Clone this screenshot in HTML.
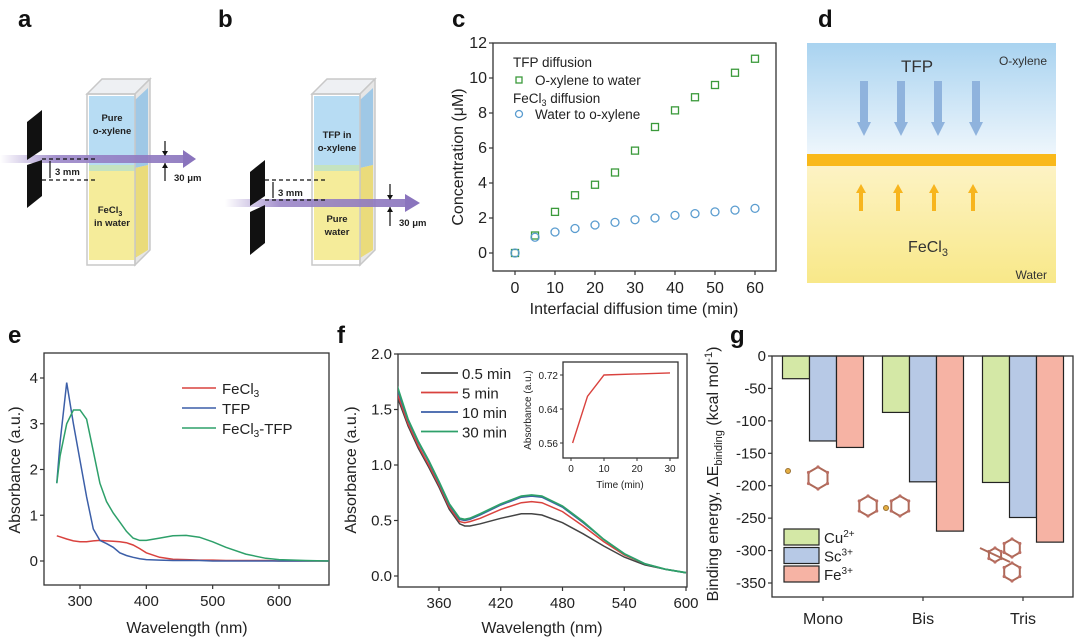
<!DOCTYPE html>
<html><head><meta charset="utf-8"><style>
html,body{margin:0;padding:0;background:#fff;}
svg{display:block;font-family:"Liberation Sans",Arial,sans-serif;}
.pl{font-weight:bold;font-size:24px;fill:#111;}
.tk{font-size:15px;fill:#222;}
.tkc{font-size:16px;fill:#222;}
.at{font-size:16px;fill:#222;}
.sm{font-size:9.5px;font-weight:bold;fill:#222;}
</style></head><body>
<svg id="fig" width="1080" height="638" viewBox="0 0 1080 638">
<defs>
<linearGradient id="gd1" x1="0" y1="0" x2="0" y2="1"><stop offset="0" stop-color="#a9d3f0"/><stop offset="1" stop-color="#eef6fc"/></linearGradient>
<linearGradient id="gd2" x1="0" y1="0" x2="0" y2="1"><stop offset="0" stop-color="#fdf3c4"/><stop offset="1" stop-color="#f8e889"/></linearGradient>
<linearGradient id="beam" x1="0" y1="0" x2="1" y2="0"><stop offset="0" stop-color="#9b86c8" stop-opacity="0"/><stop offset="0.3" stop-color="#9b86c8"/><stop offset="1" stop-color="#8a74bd"/></linearGradient>
</defs>
<text class="pl" x="18" y="27">a</text>
<text class="pl" x="218" y="27">b</text>
<text class="pl" x="452" y="27">c</text>
<text class="pl" x="818" y="27">d</text>
<text class="pl" x="8" y="343">e</text>
<text class="pl" x="337" y="343">f</text>
<text class="pl" x="730" y="343">g</text>

<g>
<polygon points="87,94 102,79 150,79 135,94" fill="#eef0f3" stroke="#c8c8c8" stroke-width="1.5"/>
<polygon points="135,94 150,79 150,250 135,265" fill="#e6e6e6" stroke="#c8c8c8" stroke-width="1.5"/>
<rect x="89" y="96" width="46" height="72" fill="#b7dcf3"/>
<rect x="89" y="168" width="46" height="92" fill="#f5ec9a"/>
<polygon points="135,100 148,88 148,165 135,168" fill="#9fc8e6"/>
<polygon points="135,168 148,165 148,250 135,258" fill="#eadb7b"/>
<rect x="89" y="165" width="46" height="6" fill="#c5e3c0"/>
<rect x="87" y="94" width="48" height="171" fill="none" stroke="#c8c8c8" stroke-width="1.5"/>
<text class="sm" x="112" y="121" text-anchor="middle">Pure</text>
<text class="sm" x="112" y="134" text-anchor="middle">o-xylene</text>
<text class="sm" x="110" y="213" text-anchor="middle">FeCl<tspan font-size="7" dy="3">3</tspan></text>
<text class="sm" x="112" y="226" text-anchor="middle">in water</text>
<rect x="0" y="155" width="185" height="8" fill="url(#beam)" opacity="0.9"/>
<polygon points="183,150 196,159 183,168" fill="#8a74bd"/>
<polygon points="27,122 42,110 42,150 27,160" fill="#111"/>
<polygon points="27,165 42,160 42,196 27,208" fill="#111"/>
<line x1="42" y1="159" x2="98" y2="159" stroke="#111" stroke-dasharray="4,3" stroke-width="1.3"/>
<line x1="42" y1="180" x2="98" y2="180" stroke="#111" stroke-dasharray="4,3" stroke-width="1.3"/>
<line x1="50" y1="161" x2="50" y2="178" stroke="#111" stroke-width="1.2"/>
<text class="sm" x="55" y="175">3 mm</text>
<line x1="165" y1="141" x2="165" y2="155" stroke="#111" stroke-width="1.2"/>
<polygon points="162,151 168,151 165,156" fill="#111"/>
<line x1="165" y1="163" x2="165" y2="181" stroke="#111" stroke-width="1.2"/>
<polygon points="162,168 168,168 165,163" fill="#111"/>
<text class="sm" x="174" y="181">30 μm</text>
</g>

<g>
<polygon points="312,94 327,79 375,79 360,94" fill="#eef0f3" stroke="#c8c8c8" stroke-width="1.5"/>
<polygon points="360,94 375,79 375,250 360,265" fill="#e6e6e6" stroke="#c8c8c8" stroke-width="1.5"/>
<rect x="314" y="96" width="46" height="72" fill="#b7dcf3"/>
<rect x="314" y="168" width="46" height="92" fill="#f5ec9a"/>
<polygon points="360,100 373,88 373,165 360,168" fill="#9fc8e6"/>
<polygon points="360,168 373,165 373,250 360,258" fill="#eadb7b"/>
<rect x="314" y="165" width="46" height="6" fill="#c5e3c0"/>
<rect x="312" y="94" width="48" height="171" fill="none" stroke="#c8c8c8" stroke-width="1.5"/>
<text class="sm" x="337" y="138" text-anchor="middle">TFP in</text>
<text class="sm" x="337" y="151" text-anchor="middle">o-xylene</text>
<text class="sm" x="337" y="222" text-anchor="middle">Pure</text>
<text class="sm" x="337" y="235" text-anchor="middle">water</text>
<rect x="225" y="199" width="182" height="8" fill="url(#beam)" opacity="0.9"/>
<polygon points="405,194 420,203 405,212" fill="#8a74bd"/>
<polygon points="250,172 265,160 265,196 250,206" fill="#111"/>
<polygon points="250,212 265,205 265,243 250,255" fill="#111"/>
<line x1="265" y1="180" x2="325" y2="180" stroke="#111" stroke-dasharray="4,3" stroke-width="1.3"/>
<line x1="265" y1="200" x2="325" y2="200" stroke="#111" stroke-dasharray="4,3" stroke-width="1.3"/>
<line x1="273" y1="182" x2="273" y2="198" stroke="#111" stroke-width="1.2"/>
<text class="sm" x="278" y="196">3 mm</text>
<line x1="390" y1="184" x2="390" y2="199" stroke="#111" stroke-width="1.2"/>
<polygon points="387,195 393,195 390,200" fill="#111"/>
<line x1="390" y1="207" x2="390" y2="226" stroke="#111" stroke-width="1.2"/>
<polygon points="387,212 393,212 390,207" fill="#111"/>
<text class="sm" x="399" y="226">30 μm</text>
</g>

<g>
<rect x="807" y="43" width="249" height="111" fill="url(#gd1)"/>
<rect x="807" y="166" width="249" height="117" fill="url(#gd2)"/>
<rect x="807" y="154" width="249" height="12" fill="#f9b91a"/>
<text x="917" y="72" font-size="17" fill="#333" text-anchor="middle">TFP</text>
<text x="1047" y="65" font-size="12" fill="#333" text-anchor="end">O-xylene</text>
<text x="928" y="252" font-size="16" fill="#333" text-anchor="middle">FeCl<tspan font-size="11" dy="4">3</tspan></text>
<text x="1047" y="279" font-size="12" fill="#333" text-anchor="end">Water</text>
<g fill="#8fb3dd">
<rect x="860" y="81" width="8" height="42"/><polygon points="857,122 871,122 864,136"/>
<rect x="897" y="81" width="8" height="42"/><polygon points="894,122 908,122 901,136"/>
<rect x="934" y="81" width="8" height="42"/><polygon points="931,122 945,122 938,136"/>
<rect x="972" y="81" width="8" height="42"/><polygon points="969,122 983,122 976,136"/>
</g>
<g fill="#f7b51e">
<rect x="859" y="191" width="4" height="20"/><polygon points="856,193 866,193 861,184"/>
<rect x="896" y="191" width="4" height="20"/><polygon points="893,193 903,193 898,184"/>
<rect x="932" y="191" width="4" height="20"/><polygon points="929,193 939,193 934,184"/>
<rect x="971" y="191" width="4" height="20"/><polygon points="968,193 978,193 973,184"/>
</g>
</g>

<g id="plots"></g>
</svg>
<script>
const cTime = [0,5,10,15,20,25,30,35,40,45,50,55,60];
const cTFP = [0,1.0,2.35,3.3,3.9,4.6,5.85,7.2,8.15,8.9,9.6,10.3,11.1];
const cFeCl3 = [0,0.9,1.2,1.4,1.6,1.75,1.9,2.0,2.15,2.25,2.35,2.45,2.55];
const cYTicks = [0,2,4,6,8,10,12];
const cXTicks = [0,10,20,30,40,50,60];

const eWave = [265,270,280,290,300,310,320,330,340,350,360,370,380,390,400,420,440,460,480,500,520,550,580,600,640,675];
const eFeCl3 = [0.55,0.53,0.48,0.44,0.42,0.42,0.44,0.45,0.44,0.43,0.42,0.40,0.35,0.27,0.18,0.08,0.04,0.03,0.02,0.02,0.01,0.01,0.01,0,0,0];
const eTFP = [1.7,2.6,3.9,3.0,2.2,1.4,0.7,0.45,0.38,0.30,0.18,0.12,0.08,0.05,0.03,0.02,0.01,0.01,0.01,0,0,0,0,0,0,0];
const eMix = [1.7,2.3,3.0,3.3,3.3,3.1,2.4,1.7,1.3,1.05,0.85,0.65,0.5,0.45,0.45,0.5,0.55,0.56,0.52,0.42,0.3,0.15,0.06,0.03,0.01,0];
const eXTicks = [300,400,500,600];
const eYTicks = [0,1,2,3,4];

const fWave = [318,330,340,350,360,370,380,385,390,400,420,440,450,460,480,500,520,540,560,580,600];
const f05 = [1.65,1.35,1.15,0.98,0.80,0.60,0.47,0.45,0.45,0.47,0.52,0.56,0.56,0.55,0.48,0.38,0.27,0.17,0.10,0.06,0.03];
const f5 = [1.68,1.37,1.17,1.0,0.82,0.62,0.49,0.48,0.49,0.52,0.60,0.66,0.67,0.66,0.58,0.45,0.31,0.19,0.11,0.06,0.03];
const f10 = [1.72,1.40,1.20,1.03,0.84,0.64,0.51,0.50,0.51,0.55,0.64,0.71,0.72,0.71,0.62,0.48,0.33,0.20,0.11,0.06,0.03];
const f30 = [1.75,1.41,1.21,1.04,0.85,0.65,0.52,0.51,0.52,0.56,0.65,0.72,0.73,0.72,0.63,0.49,0.33,0.20,0.11,0.06,0.03];
const fXTicks = [360,420,480,540,600];
const fYTicks = [0,0.5,1.0,1.5,2.0];
const insetTime = [0.5,5,10,30];
const insetAbs = [0.56,0.67,0.72,0.725];
const insetXTicks = [0,10,20,30];
const insetYTicks = [0.56,0.64,0.72];

const gCats = ['Mono','Bis','Tris'];
const gCu = [-35,-87,-195];
const gSc = [-131,-194,-249];
const gFe = [-141,-270,-287];
const gYTicks = [0,-50,-100,-150,-200,-250,-300,-350];

const NS='http://www.w3.org/2000/svg';
const root=document.getElementById('plots');
function mk(tag,attrs,parent,txt){const el=document.createElementNS(NS,tag);for(const k in attrs)el.setAttribute(k,attrs[k]);if(txt!==undefined)el.textContent=txt;(parent||root).appendChild(el);return el;}
function lin(d0,d1,r0,r1){return v=>r0+(v-d0)*(r1-r0)/(d1-d0);}
function frame(x0,y0,x1,y1,name){const r=mk('rect',{x:x0,y:y0,width:x1-x0,height:y1-y0,fill:'none',stroke:'#333','stroke-width':1.3});}
function ticksX(vals,sx,yb,ty,fmt,cls,name){vals.forEach(v=>{mk('line',{x1:sx(v),x2:sx(v),y1:yb,y2:yb+4,stroke:'#333','stroke-width':1.2});const t=mk('text',{x:sx(v),y:ty,'text-anchor':'middle',class:cls||'tk'},root,fmt?fmt(v):v);});}
function ticksY(vals,sy,xl,tx,fmt,cls,name){vals.forEach(v=>{mk('line',{x1:xl-4,x2:xl,y1:sy(v),y2:sy(v),stroke:'#333','stroke-width':1.2});const t=mk('text',{x:tx,y:sy(v)+5,'text-anchor':'end',class:cls||'tk'},root,fmt?fmt(v):v);});}
function pts(xs,ys,sx,sy){return xs.map((x,i)=>sx(x).toFixed(1)+','+sy(ys[i]).toFixed(1)).join(' ');}

// panel c
{
const sx=lin(0,60,515,755), sy=lin(0,12,253,43);
frame(493,43,776,271,'panel-c-plot-area');
ticksX(cXTicks,sx,271,293,null,'tkc','c-x-tick-label');
ticksY(cYTicks,sy,493,487,null,'tkc','c-y-tick-label');
const xt=mk('text',{x:634,y:314,'text-anchor':'middle',class:'at'},root,'Interfacial diffusion time (min)');


const yt=mk('text',{x:0,y:0,'text-anchor':'middle',class:'at',transform:'translate(463,157) rotate(-90)'},root,'Concentration (μM)');


cTime.forEach((t,i)=>{
 const s=mk('rect',{x:sx(t)-3.5,y:sy(cTFP[i])-3.5,width:7,height:7,fill:'none',stroke:'#3b9a3b','stroke-width':1.3});
 
 
 const c=mk('circle',{cx:sx(t),cy:sy(cFeCl3[i]),r:4,fill:'none',stroke:'#5a9ccf','stroke-width':1.3});
 
 
});
const lg=mk('g',{});


mk('text',{x:513,y:67,'font-size':13.5,fill:'#222'},lg,'TFP  diffusion');
mk('rect',{x:516,y:77,width:6,height:6,fill:'none',stroke:'#3b9a3b','stroke-width':1.3},lg);
mk('text',{x:535,y:85,'font-size':13.5,fill:'#222'},lg,'O-xylene to water');
const fl=mk('text',{x:513,y:103,'font-size':13.5,fill:'#222'},lg,'FeCl');
mk('tspan',{'font-size':9,dy:3},fl,'3');
mk('tspan',{dy:-3},fl,' diffusion');
mk('circle',{cx:519,cy:114,r:3.5,fill:'none',stroke:'#5a9ccf','stroke-width':1.3},lg);
mk('text',{x:535,y:119,'font-size':13.5,fill:'#222'},lg,'Water to o-xylene');
}

// panel e
{
const sx=lin(300,600,80,279), sy=lin(0,4,561,378);
frame(44,353,329,585,'panel-e-plot-area');
ticksX(eXTicks,sx,585,606,null,'tk','e-x-tick-label');
ticksY(eYTicks,sy,44,38,null,'tk','e-y-tick-label');
const xt=mk('text',{x:187,y:633,'text-anchor':'middle',class:'at'},root,'Wavelength (nm)');


const yt=mk('text',{x:0,y:0,'text-anchor':'middle',class:'at',transform:'translate(20,470) rotate(-90)'},root,'Absorbance (a.u.)');


const l1=mk('polyline',{points:pts(eWave,eFeCl3,sx,sy),fill:'none',stroke:'#d9423e','stroke-width':1.5});


const l2=mk('polyline',{points:pts(eWave,eTFP,sx,sy),fill:'none',stroke:'#3c5fa8','stroke-width':1.5});


const l3=mk('polyline',{points:pts(eWave,eMix,sx,sy),fill:'none',stroke:'#2ea06a','stroke-width':1.5});


const lg=mk('g',{});


[['#d9423e','FeCl','3',''],['#3c5fa8','TFP','',''],['#2ea06a','FeCl','3','-TFP']].forEach((r,i)=>{
 const y=388+i*20;
 mk('line',{x1:182,x2:216,y1:y,y2:y,stroke:r[0],'stroke-width':1.5},lg);
 const t=mk('text',{x:222,y:y+6,'font-size':15,fill:'#222'},lg,r[1]);
 if(r[2]){mk('tspan',{'font-size':10,dy:3},t,r[2]);mk('tspan',{dy:-3},t,r[3]);}
});
}

// panel f
{
const sx=lin(360,600,439,686), sy=lin(0,2,576,354);
const cp=mk('clipPath',{id:'fclip'});mk('rect',{x:398,y:354,width:289,height:233},cp);
frame(398,354,687,587,'panel-f-plot-area');
ticksX(fXTicks,sx,587,608,null,'tk','f-x-tick-label');
ticksY(fYTicks,sy,398,392,v=>v.toFixed(1),'tk','f-y-tick-label');
const xt=mk('text',{x:542,y:633,'text-anchor':'middle',class:'at'},root,'Wavelength (nm)');


const yt=mk('text',{x:0,y:0,'text-anchor':'middle',class:'at',transform:'translate(356,470) rotate(-90)'},root,'Absorbance (a.u.)');


const g=mk('g',{'clip-path':'url(#fclip)'});
const s1=mk('polyline',{points:pts(fWave,f05,sx,sy),fill:'none',stroke:'#444','stroke-width':1.5},g);


const s2=mk('polyline',{points:pts(fWave,f5,sx,sy),fill:'none',stroke:'#d9423e','stroke-width':1.5},g);


const s3=mk('polyline',{points:pts(fWave,f10,sx,sy),fill:'none',stroke:'#3c5fa8','stroke-width':1.5},g);


const s4=mk('polyline',{points:pts(fWave,f30,sx,sy),fill:'none',stroke:'#2ea06a','stroke-width':1.8},g);


const lg=mk('g',{});


[['#444','0.5 min'],['#d9423e','5 min'],['#3c5fa8','10 min'],['#2ea06a','30 min']].forEach((r,i)=>{
 const y=373+i*19.5;
 mk('line',{x1:421,x2:458,y1:y,y2:y,stroke:r[0],'stroke-width':1.8},lg);
 mk('text',{x:462,y:y+6,'font-size':15,fill:'#222'},lg,r[1]);
});
const ix=lin(0,30,571,670), iy=lin(0.56,0.72,443,375);
frame(563,362,678,458,'f-inset-plot-area');
insetXTicks.forEach(v=>{mk('line',{x1:ix(v),x2:ix(v),y1:458,y2:461,stroke:'#333'});const t=mk('text',{x:ix(v),y:472,'text-anchor':'middle','font-size':10,fill:'#222'},root,v);});
insetYTicks.forEach(v=>{mk('line',{x1:560,x2:563,y1:iy(v),y2:iy(v),stroke:'#333'});const t=mk('text',{x:558,y:iy(v)+4,'text-anchor':'end','font-size':10,fill:'#222'},root,v.toFixed(2));});
const it=mk('text',{x:620,y:488,'text-anchor':'middle','font-size':10,fill:'#222'},root,'Time (min)');


const iyt=mk('text',{x:0,y:0,'text-anchor':'middle','font-size':10,fill:'#222',transform:'translate(531,410) rotate(-90)'},root,'Absorbance (a.u.)');


const il=mk('polyline',{points:pts(insetTime,insetAbs,ix,iy),fill:'none',stroke:'#d9423e','stroke-width':1.4});


}

// panel g
{
const sy=lin(0,-350,356,583);
const centers=[823,923,1023], bw=27;
const yt=mk('text',{x:0,y:0,'text-anchor':'middle',class:'at',transform:'translate(718,474) rotate(-90)'},root,'');


mk('tspan',{},yt,'Binding energy, ΔE');mk('tspan',{'font-size':11,dy:4},yt,'binding');mk('tspan',{dy:-4},yt,' (kcal mol');mk('tspan',{'font-size':11,dy:-6},yt,'-1');mk('tspan',{dy:6},yt,')');
const series=[[gCu,'#d4e8a6','cu'],[gSc,'#b7c9e6','sc'],[gFe,'#f6b3a4','fe']];
gCats.forEach((c,i)=>{
 series.forEach((s,j)=>{
  const x=centers[i]-bw*1.5+j*bw;
  const b=mk('rect',{x:x,y:sy(0),width:bw,height:sy(s[0][i])-sy(0),fill:s[1],stroke:'#222','stroke-width':1.2});
  
  
 });
 mk('line',{x1:centers[i],x2:centers[i],y1:597,y2:601,stroke:'#333','stroke-width':1.2});
 const t=mk('text',{x:centers[i],y:624,'text-anchor':'middle','font-size':16,fill:'#222'},root,c);
 
 
});
frame(772,356,1073,597,'panel-g-plot-area');
ticksY(gYTicks,sy,772,766,null,'tk','g-y-tick-label');
const mol=mk('g',{stroke:'#a0503c','stroke-width':2,fill:'#b0574a',opacity:0.85});


function ring(cx,cy,r){const p=[];for(let k=0;k<6;k++){const a=Math.PI/3*k+Math.PI/6;p.push((cx+r*Math.cos(a)).toFixed(1)+','+(cy+r*Math.sin(a)).toFixed(1));}mk('polygon',{points:p.join(' '),fill:'none'},mol);p.forEach(q=>{const [a,b]=q.split(',');mk('circle',{cx:a,cy:b,r:1.6,stroke:'none'},mol);});}
ring(818,478,11);ring(868,506,10);ring(900,506,10);ring(1012,548,9);ring(1012,572,9);ring(995,555,7);
mk('circle',{cx:788,cy:471,r:2.5,fill:'#e0a020',stroke:'#8a5a10','stroke-width':1},mol);
mk('circle',{cx:886,cy:508,r:2.5,fill:'#e0a020',stroke:'#8a5a10','stroke-width':1},mol);
mk('line',{x1:980,y1:548,x2:1010,y2:562},mol);
const lg=mk('g',{});


[['#d4e8a6','Cu','2+'],['#b7c9e6','Sc','3+'],['#f6b3a4','Fe','3+']].forEach((r,i)=>{
 const y=529+i*18.5;
 mk('rect',{x:784,y:y,width:35,height:16,fill:r[0],stroke:'#222','stroke-width':1.2},lg);
 const t=mk('text',{x:824,y:y+14,'font-size':15,fill:'#222'},lg,r[1]);
 mk('tspan',{'font-size':10,dy:-6},t,r[2]);
});
}
</script>
</body></html>
